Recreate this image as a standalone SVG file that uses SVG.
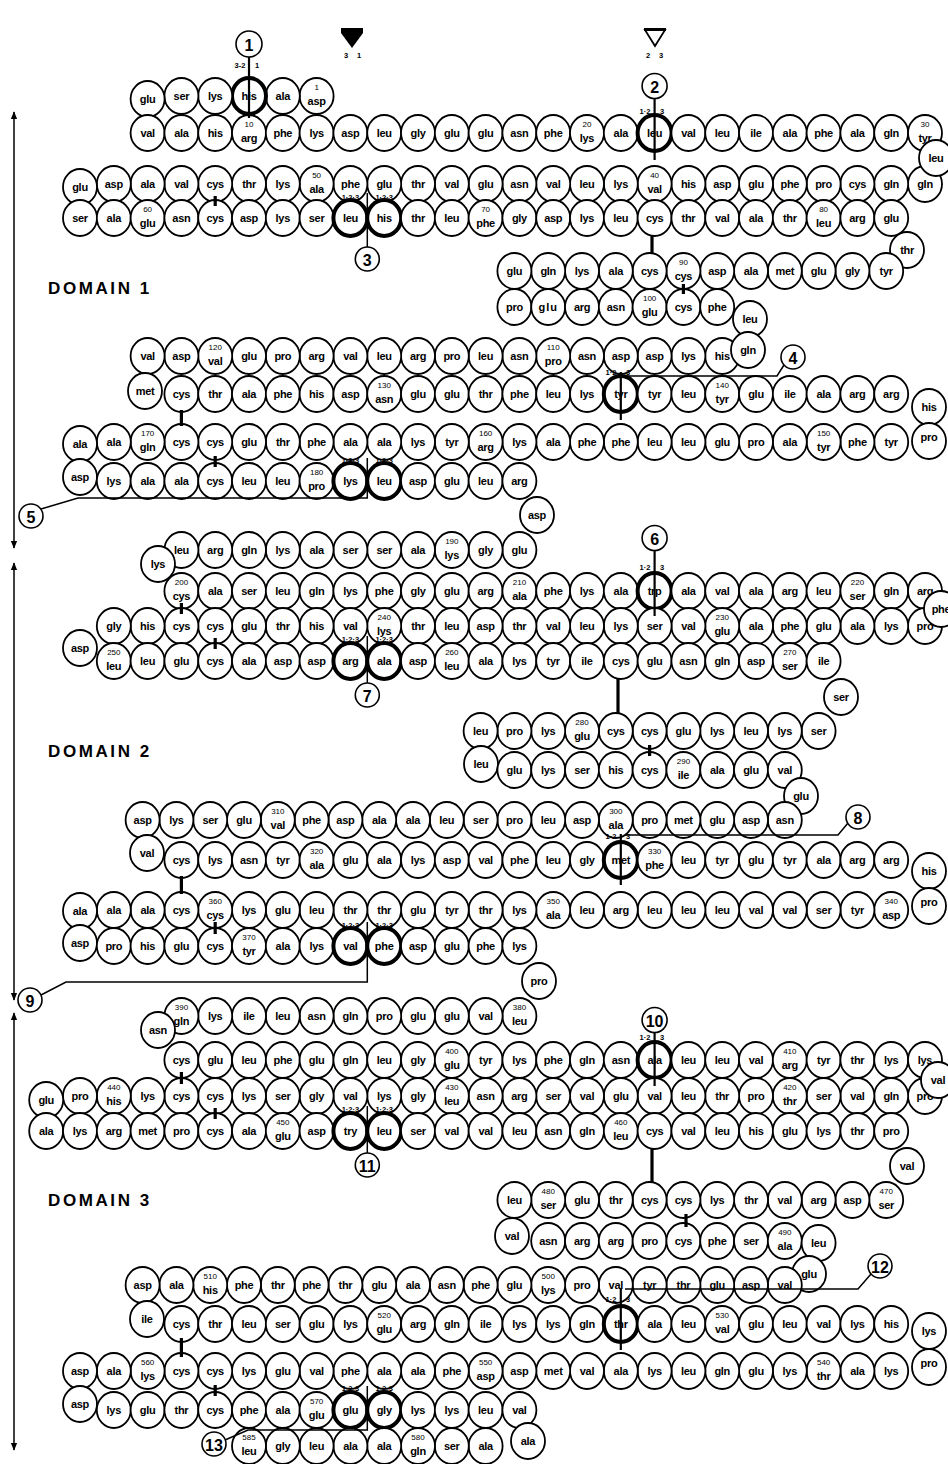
<svg xmlns="http://www.w3.org/2000/svg" xmlns:xlink="http://www.w3.org/1999/xlink" width="948" height="1464" viewBox="0 0 948 1464">
<style>
.r use{fill:#fff;stroke:#000;stroke-width:1.8}
.r .b use{stroke-width:4}
.r text{font-family:"Liberation Sans",Arial,sans-serif;font-size:11px;font-weight:bold;text-anchor:middle;dominant-baseline:central;letter-spacing:-0.3px}
.r text.n{font-size:8px;font-weight:normal;letter-spacing:0}
.lab circle{fill:#fff;stroke:#000;stroke-width:1.6}
.lab text{font-family:"Liberation Sans",Arial,sans-serif;font-size:16px;font-weight:bold;text-anchor:middle;dominant-baseline:central}
.k{font-family:"Liberation Sans",Arial,sans-serif;font-size:7.5px;font-weight:bold;text-anchor:middle}
.cn line,.cn polyline{fill:none;stroke:#000;stroke-width:1.5}
.cn .v{stroke-width:2.2}
.cn .ss{stroke-width:3.2}
.dm{font-family:"Liberation Sans",Arial,sans-serif;font-size:17px;font-weight:bold;letter-spacing:2.6px}
.ax{stroke:#000;stroke-width:1.5}
</style>
<defs>
<ellipse id="c" rx="17" ry="18"/>
<marker id="ah" viewBox="0 0 10 10" refX="9" refY="5" markerWidth="8" markerHeight="8" orient="auto-start-reverse" markerUnits="userSpaceOnUse"><path d="M0,1 L10,5 L0,9 Z" fill="#000"/></marker>
</defs>
<rect width="948" height="1464" fill="#fff"/>

<g id="header">
<polygon points="341,28 363,28 363,33 352,48 341,33" fill="#000"/>
<text class="k" x="346" y="58">3</text><text class="k" x="359" y="58">1</text>
<rect x="644" y="28" width="22" height="3" fill="#000"/>
<polygon points="645,30 665,30 655,46" fill="none" stroke="#000" stroke-width="1.8"/>
<text class="k" x="648" y="58">2</text><text class="k" x="661" y="58">3</text>
</g>

<g id="domains">
<line class="ax" x1="14" y1="112" x2="14" y2="548" marker-start="url(#ah)" marker-end="url(#ah)"/>
<line class="ax" x1="14" y1="563" x2="14" y2="1000" marker-start="url(#ah)" marker-end="url(#ah)"/>
<line class="ax" x1="14" y1="1013" x2="14" y2="1450" marker-start="url(#ah)" marker-end="url(#ah)"/>
<text class="dm" x="48" y="294">DOMAIN 1</text>
<text class="dm" x="48" y="757">DOMAIN 2</text>
<text class="dm" x="48" y="1206">DOMAIN 3</text>
</g>

<g id="residues" class="r">
<g id="r1" transform="translate(316.6,96)"><use href="#c"/><text class="n" y="-9">1</text><text y="5">asp</text></g>
<g id="r2" transform="translate(282.8,96)"><use href="#c"/><text>ala</text></g>
<g id="r3" class="b" transform="translate(249,96)"><use href="#c"/><text>his</text></g>
<g id="r4" transform="translate(215.2,96)"><use href="#c"/><text>lys</text></g>
<g id="r5" transform="translate(181.4,96)"><use href="#c"/><text>ser</text></g>
<g id="r6" transform="translate(147.6,99)"><use href="#c"/><text>glu</text></g>
<g id="r7" transform="translate(147.6,133)"><use href="#c"/><text>val</text></g>
<g id="r8" transform="translate(181.4,133)"><use href="#c"/><text>ala</text></g>
<g id="r9" transform="translate(215.2,133)"><use href="#c"/><text>his</text></g>
<g id="r10" transform="translate(249,133)"><use href="#c"/><text class="n" y="-9">10</text><text y="5">arg</text></g>
<g id="r11" transform="translate(282.8,133)"><use href="#c"/><text>phe</text></g>
<g id="r12" transform="translate(316.6,133)"><use href="#c"/><text>lys</text></g>
<g id="r13" transform="translate(350.4,133)"><use href="#c"/><text>asp</text></g>
<g id="r14" transform="translate(384.2,133)"><use href="#c"/><text>leu</text></g>
<g id="r15" transform="translate(418,133)"><use href="#c"/><text>gly</text></g>
<g id="r16" transform="translate(451.8,133)"><use href="#c"/><text>glu</text></g>
<g id="r17" transform="translate(485.6,133)"><use href="#c"/><text>glu</text></g>
<g id="r18" transform="translate(519.4,133)"><use href="#c"/><text>asn</text></g>
<g id="r19" transform="translate(553.2,133)"><use href="#c"/><text>phe</text></g>
<g id="r20" transform="translate(587,133)"><use href="#c"/><text class="n" y="-9">20</text><text y="5">lys</text></g>
<g id="r21" transform="translate(620.8,133)"><use href="#c"/><text>ala</text></g>
<g id="r22" class="b" transform="translate(654.6,133)"><use href="#c"/><text>leu</text></g>
<g id="r23" transform="translate(688.4,133)"><use href="#c"/><text>val</text></g>
<g id="r24" transform="translate(722.2,133)"><use href="#c"/><text>leu</text></g>
<g id="r25" transform="translate(756,133)"><use href="#c"/><text>ile</text></g>
<g id="r26" transform="translate(789.8,133)"><use href="#c"/><text>ala</text></g>
<g id="r27" transform="translate(823.6,133)"><use href="#c"/><text>phe</text></g>
<g id="r28" transform="translate(857.4,133)"><use href="#c"/><text>ala</text></g>
<g id="r29" transform="translate(891.2,133)"><use href="#c"/><text>gln</text></g>
<g id="r30" transform="translate(925,133)"><use href="#c"/><text class="n" y="-9">30</text><text y="5">tyr</text></g>
<g id="r32" transform="translate(925,184)"><use href="#c"/><text>gln</text></g>
<g id="r31" transform="translate(936,158)"><use href="#c"/><text>leu</text></g>
<g id="r33" transform="translate(891.2,184)"><use href="#c"/><text>gln</text></g>
<g id="r34" transform="translate(857.4,184)"><use href="#c"/><text>cys</text></g>
<g id="r35" transform="translate(823.6,184)"><use href="#c"/><text>pro</text></g>
<g id="r36" transform="translate(789.8,184)"><use href="#c"/><text>phe</text></g>
<g id="r37" transform="translate(756,184)"><use href="#c"/><text>glu</text></g>
<g id="r38" transform="translate(722.2,184)"><use href="#c"/><text>asp</text></g>
<g id="r39" transform="translate(688.4,184)"><use href="#c"/><text>his</text></g>
<g id="r40" transform="translate(654.6,184)"><use href="#c"/><text class="n" y="-9">40</text><text y="5">val</text></g>
<g id="r41" transform="translate(620.8,184)"><use href="#c"/><text>lys</text></g>
<g id="r42" transform="translate(587,184)"><use href="#c"/><text>leu</text></g>
<g id="r43" transform="translate(553.2,184)"><use href="#c"/><text>val</text></g>
<g id="r44" transform="translate(519.4,184)"><use href="#c"/><text>asn</text></g>
<g id="r45" transform="translate(485.6,184)"><use href="#c"/><text>glu</text></g>
<g id="r46" transform="translate(451.8,184)"><use href="#c"/><text>val</text></g>
<g id="r47" transform="translate(418,184)"><use href="#c"/><text>thr</text></g>
<g id="r48" transform="translate(384.2,184)"><use href="#c"/><text>glu</text></g>
<g id="r49" transform="translate(350.4,184)"><use href="#c"/><text>phe</text></g>
<g id="r50" transform="translate(316.6,184)"><use href="#c"/><text class="n" y="-9">50</text><text y="5">ala</text></g>
<g id="r51" transform="translate(282.8,184)"><use href="#c"/><text>lys</text></g>
<g id="r52" transform="translate(249,184)"><use href="#c"/><text>thr</text></g>
<g id="r53" transform="translate(215.2,184)"><use href="#c"/><text>cys</text></g>
<g id="r54" transform="translate(181.4,184)"><use href="#c"/><text>val</text></g>
<g id="r55" transform="translate(147.6,184)"><use href="#c"/><text>ala</text></g>
<g id="r56" transform="translate(113.8,184)"><use href="#c"/><text>asp</text></g>
<g id="r57" transform="translate(80,187)"><use href="#c"/><text>glu</text></g>
<g id="r58" transform="translate(80,218)"><use href="#c"/><text>ser</text></g>
<g id="r59" transform="translate(113.8,218)"><use href="#c"/><text>ala</text></g>
<g id="r60" transform="translate(147.6,218)"><use href="#c"/><text class="n" y="-9">60</text><text y="5">glu</text></g>
<g id="r61" transform="translate(181.4,218)"><use href="#c"/><text>asn</text></g>
<g id="r62" transform="translate(215.2,218)"><use href="#c"/><text>cys</text></g>
<g id="r63" transform="translate(249,218)"><use href="#c"/><text>asp</text></g>
<g id="r64" transform="translate(282.8,218)"><use href="#c"/><text>lys</text></g>
<g id="r65" transform="translate(316.6,218)"><use href="#c"/><text>ser</text></g>
<g id="r66" class="b" transform="translate(350.4,218)"><use href="#c"/><text>leu</text></g>
<g id="r67" class="b" transform="translate(384.2,218)"><use href="#c"/><text>his</text></g>
<g id="r68" transform="translate(418,218)"><use href="#c"/><text>thr</text></g>
<g id="r69" transform="translate(451.8,218)"><use href="#c"/><text>leu</text></g>
<g id="r70" transform="translate(485.6,218)"><use href="#c"/><text class="n" y="-9">70</text><text y="5">phe</text></g>
<g id="r71" transform="translate(519.4,218)"><use href="#c"/><text>gly</text></g>
<g id="r72" transform="translate(553.2,218)"><use href="#c"/><text>asp</text></g>
<g id="r73" transform="translate(587,218)"><use href="#c"/><text>lys</text></g>
<g id="r74" transform="translate(620.8,218)"><use href="#c"/><text>leu</text></g>
<g id="r75" transform="translate(654.6,218)"><use href="#c"/><text>cys</text></g>
<g id="r76" transform="translate(688.4,218)"><use href="#c"/><text>thr</text></g>
<g id="r77" transform="translate(722.2,218)"><use href="#c"/><text>val</text></g>
<g id="r78" transform="translate(756,218)"><use href="#c"/><text>ala</text></g>
<g id="r79" transform="translate(789.8,218)"><use href="#c"/><text>thr</text></g>
<g id="r80" transform="translate(823.6,218)"><use href="#c"/><text class="n" y="-9">80</text><text y="5">leu</text></g>
<g id="r81" transform="translate(857.4,218)"><use href="#c"/><text>arg</text></g>
<g id="r82" transform="translate(891.2,218)"><use href="#c"/><text>glu</text></g>
<g id="r83" transform="translate(907,250)"><use href="#c"/><text>thr</text></g>
<g id="r84" transform="translate(886.2,271)"><use href="#c"/><text>tyr</text></g>
<g id="r85" transform="translate(852.4,271)"><use href="#c"/><text>gly</text></g>
<g id="r86" transform="translate(818.6,271)"><use href="#c"/><text>glu</text></g>
<g id="r87" transform="translate(784.8,271)"><use href="#c"/><text>met</text></g>
<g id="r88" transform="translate(751,271)"><use href="#c"/><text>ala</text></g>
<g id="r89" transform="translate(717.2,271)"><use href="#c"/><text>asp</text></g>
<g id="r90" transform="translate(683.4,271)"><use href="#c"/><text class="n" y="-9">90</text><text y="5">cys</text></g>
<g id="r91" transform="translate(649.6,271)"><use href="#c"/><text>cys</text></g>
<g id="r92" transform="translate(615.8,271)"><use href="#c"/><text>ala</text></g>
<g id="r93" transform="translate(582,271)"><use href="#c"/><text>lys</text></g>
<g id="r94" transform="translate(548.2,271)"><use href="#c"/><text>gln</text></g>
<g id="r95" transform="translate(514.4,271)"><use href="#c"/><text>glu</text></g>
<g id="r96" transform="translate(514.4,307)"><use href="#c"/><text>pro</text></g>
<g id="r97" transform="translate(548.2,307)"><use href="#c"/><text style="letter-spacing:1px">glu</text></g>
<g id="r98" transform="translate(582,307)"><use href="#c"/><text>arg</text></g>
<g id="r99" transform="translate(615.8,307)"><use href="#c"/><text>asn</text></g>
<g id="r100" transform="translate(649.6,307)"><use href="#c"/><text class="n" y="-9">100</text><text y="5">glu</text></g>
<g id="r101" transform="translate(683.4,307)"><use href="#c"/><text>cys</text></g>
<g id="r102" transform="translate(717.2,307)"><use href="#c"/><text>phe</text></g>
<g id="r103" transform="translate(750,319)"><use href="#c"/><text>leu</text></g>
<g id="r105" transform="translate(722.2,356)"><use href="#c"/><text>his</text></g>
<g id="r104" transform="translate(748,350)"><use href="#c"/><text>gln</text></g>
<g id="r106" transform="translate(688.4,356)"><use href="#c"/><text>lys</text></g>
<g id="r107" transform="translate(654.6,356)"><use href="#c"/><text>asp</text></g>
<g id="r108" transform="translate(620.8,356)"><use href="#c"/><text>asp</text></g>
<g id="r109" transform="translate(587,356)"><use href="#c"/><text>asn</text></g>
<g id="r110" transform="translate(553.2,356)"><use href="#c"/><text class="n" y="-9">110</text><text y="5">pro</text></g>
<g id="r111" transform="translate(519.4,356)"><use href="#c"/><text>asn</text></g>
<g id="r112" transform="translate(485.6,356)"><use href="#c"/><text>leu</text></g>
<g id="r113" transform="translate(451.8,356)"><use href="#c"/><text>pro</text></g>
<g id="r114" transform="translate(418,356)"><use href="#c"/><text>arg</text></g>
<g id="r115" transform="translate(384.2,356)"><use href="#c"/><text>leu</text></g>
<g id="r116" transform="translate(350.4,356)"><use href="#c"/><text>val</text></g>
<g id="r117" transform="translate(316.6,356)"><use href="#c"/><text>arg</text></g>
<g id="r118" transform="translate(282.8,356)"><use href="#c"/><text>pro</text></g>
<g id="r119" transform="translate(249,356)"><use href="#c"/><text>glu</text></g>
<g id="r120" transform="translate(215.2,356)"><use href="#c"/><text class="n" y="-9">120</text><text y="5">val</text></g>
<g id="r121" transform="translate(181.4,356)"><use href="#c"/><text>asp</text></g>
<g id="r122" transform="translate(147.6,356)"><use href="#c"/><text>val</text></g>
<g id="r123" transform="translate(145,391)"><use href="#c"/><text>met</text></g>
<g id="r124" transform="translate(181.4,394)"><use href="#c"/><text>cys</text></g>
<g id="r125" transform="translate(215.2,394)"><use href="#c"/><text>thr</text></g>
<g id="r126" transform="translate(249,394)"><use href="#c"/><text>ala</text></g>
<g id="r127" transform="translate(282.8,394)"><use href="#c"/><text>phe</text></g>
<g id="r128" transform="translate(316.6,394)"><use href="#c"/><text>his</text></g>
<g id="r129" transform="translate(350.4,394)"><use href="#c"/><text>asp</text></g>
<g id="r130" transform="translate(384.2,394)"><use href="#c"/><text class="n" y="-9">130</text><text y="5">asn</text></g>
<g id="r131" transform="translate(418,394)"><use href="#c"/><text>glu</text></g>
<g id="r132" transform="translate(451.8,394)"><use href="#c"/><text>glu</text></g>
<g id="r133" transform="translate(485.6,394)"><use href="#c"/><text>thr</text></g>
<g id="r134" transform="translate(519.4,394)"><use href="#c"/><text>phe</text></g>
<g id="r135" transform="translate(553.2,394)"><use href="#c"/><text>leu</text></g>
<g id="r136" transform="translate(587,394)"><use href="#c"/><text>lys</text></g>
<g id="r137" class="b" transform="translate(620.8,394)"><use href="#c"/><text>tyr</text></g>
<g id="r138" transform="translate(654.6,394)"><use href="#c"/><text>tyr</text></g>
<g id="r139" transform="translate(688.4,394)"><use href="#c"/><text>leu</text></g>
<g id="r140" transform="translate(722.2,394)"><use href="#c"/><text class="n" y="-9">140</text><text y="5">tyr</text></g>
<g id="r141" transform="translate(756,394)"><use href="#c"/><text>glu</text></g>
<g id="r142" transform="translate(789.8,394)"><use href="#c"/><text>ile</text></g>
<g id="r143" transform="translate(823.6,394)"><use href="#c"/><text>ala</text></g>
<g id="r144" transform="translate(857.4,394)"><use href="#c"/><text>arg</text></g>
<g id="r145" transform="translate(891.2,394)"><use href="#c"/><text>arg</text></g>
<g id="r146" transform="translate(929,407)"><use href="#c"/><text>his</text></g>
<g id="r147" transform="translate(929,441)"><use href="#c"/><text y="-4">pro</text></g>
<g id="r148" transform="translate(891.2,442)"><use href="#c"/><text>tyr</text></g>
<g id="r149" transform="translate(857.4,442)"><use href="#c"/><text>phe</text></g>
<g id="r150" transform="translate(823.6,442)"><use href="#c"/><text class="n" y="-9">150</text><text y="5">tyr</text></g>
<g id="r151" transform="translate(789.8,442)"><use href="#c"/><text>ala</text></g>
<g id="r152" transform="translate(756,442)"><use href="#c"/><text>pro</text></g>
<g id="r153" transform="translate(722.2,442)"><use href="#c"/><text>glu</text></g>
<g id="r154" transform="translate(688.4,442)"><use href="#c"/><text>leu</text></g>
<g id="r155" transform="translate(654.6,442)"><use href="#c"/><text>leu</text></g>
<g id="r156" transform="translate(620.8,442)"><use href="#c"/><text>phe</text></g>
<g id="r157" transform="translate(587,442)"><use href="#c"/><text>phe</text></g>
<g id="r158" transform="translate(553.2,442)"><use href="#c"/><text>ala</text></g>
<g id="r159" transform="translate(519.4,442)"><use href="#c"/><text>lys</text></g>
<g id="r160" transform="translate(485.6,442)"><use href="#c"/><text class="n" y="-9">160</text><text y="5">arg</text></g>
<g id="r161" transform="translate(451.8,442)"><use href="#c"/><text>tyr</text></g>
<g id="r162" transform="translate(418,442)"><use href="#c"/><text>lys</text></g>
<g id="r163" transform="translate(384.2,442)"><use href="#c"/><text>ala</text></g>
<g id="r164" transform="translate(350.4,442)"><use href="#c"/><text>ala</text></g>
<g id="r165" transform="translate(316.6,442)"><use href="#c"/><text>phe</text></g>
<g id="r166" transform="translate(282.8,442)"><use href="#c"/><text>thr</text></g>
<g id="r167" transform="translate(249,442)"><use href="#c"/><text>glu</text></g>
<g id="r168" transform="translate(215.2,442)"><use href="#c"/><text>cys</text></g>
<g id="r169" transform="translate(181.4,442)"><use href="#c"/><text>cys</text></g>
<g id="r170" transform="translate(147.6,442)"><use href="#c"/><text class="n" y="-9">170</text><text y="5">gln</text></g>
<g id="r171" transform="translate(113.8,442)"><use href="#c"/><text>ala</text></g>
<g id="r172" transform="translate(80,444)"><use href="#c"/><text>ala</text></g>
<g id="r173" transform="translate(80,477)"><use href="#c"/><text>asp</text></g>
<g id="r174" transform="translate(113.8,481)"><use href="#c"/><text>lys</text></g>
<g id="r175" transform="translate(147.6,481)"><use href="#c"/><text>ala</text></g>
<g id="r176" transform="translate(181.4,481)"><use href="#c"/><text>ala</text></g>
<g id="r177" transform="translate(215.2,481)"><use href="#c"/><text>cys</text></g>
<g id="r178" transform="translate(249,481)"><use href="#c"/><text>leu</text></g>
<g id="r179" transform="translate(282.8,481)"><use href="#c"/><text>leu</text></g>
<g id="r180" transform="translate(316.6,481)"><use href="#c"/><text class="n" y="-9">180</text><text y="5">pro</text></g>
<g id="r181" class="b" transform="translate(350.4,481)"><use href="#c"/><text>lys</text></g>
<g id="r182" class="b" transform="translate(384.2,481)"><use href="#c"/><text>leu</text></g>
<g id="r183" transform="translate(418,481)"><use href="#c"/><text>asp</text></g>
<g id="r184" transform="translate(451.8,481)"><use href="#c"/><text>glu</text></g>
<g id="r185" transform="translate(485.6,481)"><use href="#c"/><text>leu</text></g>
<g id="r186" transform="translate(519.4,481)"><use href="#c"/><text>arg</text></g>
<g id="r187" transform="translate(537,515)"><use href="#c"/><text>asp</text></g>
<g id="r188" transform="translate(519.4,550)"><use href="#c"/><text>glu</text></g>
<g id="r189" transform="translate(485.6,550)"><use href="#c"/><text>gly</text></g>
<g id="r190" transform="translate(451.8,550)"><use href="#c"/><text class="n" y="-9">190</text><text y="5">lys</text></g>
<g id="r191" transform="translate(418,550)"><use href="#c"/><text>ala</text></g>
<g id="r192" transform="translate(384.2,550)"><use href="#c"/><text>ser</text></g>
<g id="r193" transform="translate(350.4,550)"><use href="#c"/><text>ser</text></g>
<g id="r194" transform="translate(316.6,550)"><use href="#c"/><text>ala</text></g>
<g id="r195" transform="translate(282.8,550)"><use href="#c"/><text>lys</text></g>
<g id="r196" transform="translate(249,550)"><use href="#c"/><text>gln</text></g>
<g id="r197" transform="translate(215.2,550)"><use href="#c"/><text>arg</text></g>
<g id="r198" transform="translate(181.4,550)"><use href="#c"/><text>leu</text></g>
<g id="r199" transform="translate(158,564)"><use href="#c"/><text>lys</text></g>
<g id="r200" transform="translate(181.4,591)"><use href="#c"/><text class="n" y="-9">200</text><text y="5">cys</text></g>
<g id="r201" transform="translate(215.2,591)"><use href="#c"/><text>ala</text></g>
<g id="r202" transform="translate(249,591)"><use href="#c"/><text>ser</text></g>
<g id="r203" transform="translate(282.8,591)"><use href="#c"/><text>leu</text></g>
<g id="r204" transform="translate(316.6,591)"><use href="#c"/><text>gln</text></g>
<g id="r205" transform="translate(350.4,591)"><use href="#c"/><text>lys</text></g>
<g id="r206" transform="translate(384.2,591)"><use href="#c"/><text>phe</text></g>
<g id="r207" transform="translate(418,591)"><use href="#c"/><text>gly</text></g>
<g id="r208" transform="translate(451.8,591)"><use href="#c"/><text>glu</text></g>
<g id="r209" transform="translate(485.6,591)"><use href="#c"/><text>arg</text></g>
<g id="r210" transform="translate(519.4,591)"><use href="#c"/><text class="n" y="-9">210</text><text y="5">ala</text></g>
<g id="r211" transform="translate(553.2,591)"><use href="#c"/><text>phe</text></g>
<g id="r212" transform="translate(587,591)"><use href="#c"/><text>lys</text></g>
<g id="r213" transform="translate(620.8,591)"><use href="#c"/><text>ala</text></g>
<g id="r214" class="b" transform="translate(654.6,591)"><use href="#c"/><text>trp</text></g>
<g id="r215" transform="translate(688.4,591)"><use href="#c"/><text>ala</text></g>
<g id="r216" transform="translate(722.2,591)"><use href="#c"/><text>val</text></g>
<g id="r217" transform="translate(756,591)"><use href="#c"/><text>ala</text></g>
<g id="r218" transform="translate(789.8,591)"><use href="#c"/><text>arg</text></g>
<g id="r219" transform="translate(823.6,591)"><use href="#c"/><text>leu</text></g>
<g id="r220" transform="translate(857.4,591)"><use href="#c"/><text class="n" y="-9">220</text><text y="5">ser</text></g>
<g id="r221" transform="translate(891.2,591)"><use href="#c"/><text>gln</text></g>
<g id="r222" transform="translate(925,591)"><use href="#c"/><text>arg</text></g>
<g id="r224" transform="translate(925,626)"><use href="#c"/><text>pro</text></g>
<g id="r223" transform="translate(941,609)"><use href="#c"/><text>phe</text></g>
<g id="r225" transform="translate(891.2,626)"><use href="#c"/><text>lys</text></g>
<g id="r226" transform="translate(857.4,626)"><use href="#c"/><text>ala</text></g>
<g id="r227" transform="translate(823.6,626)"><use href="#c"/><text>glu</text></g>
<g id="r228" transform="translate(789.8,626)"><use href="#c"/><text>phe</text></g>
<g id="r229" transform="translate(756,626)"><use href="#c"/><text>ala</text></g>
<g id="r230" transform="translate(722.2,626)"><use href="#c"/><text class="n" y="-9">230</text><text y="5">glu</text></g>
<g id="r231" transform="translate(688.4,626)"><use href="#c"/><text>val</text></g>
<g id="r232" transform="translate(654.6,626)"><use href="#c"/><text>ser</text></g>
<g id="r233" transform="translate(620.8,626)"><use href="#c"/><text>lys</text></g>
<g id="r234" transform="translate(587,626)"><use href="#c"/><text>leu</text></g>
<g id="r235" transform="translate(553.2,626)"><use href="#c"/><text>val</text></g>
<g id="r236" transform="translate(519.4,626)"><use href="#c"/><text>thr</text></g>
<g id="r237" transform="translate(485.6,626)"><use href="#c"/><text>asp</text></g>
<g id="r238" transform="translate(451.8,626)"><use href="#c"/><text>leu</text></g>
<g id="r239" transform="translate(418,626)"><use href="#c"/><text>thr</text></g>
<g id="r240" transform="translate(384.2,626)"><use href="#c"/><text class="n" y="-9">240</text><text y="5">lys</text></g>
<g id="r241" transform="translate(350.4,626)"><use href="#c"/><text>val</text></g>
<g id="r242" transform="translate(316.6,626)"><use href="#c"/><text>his</text></g>
<g id="r243" transform="translate(282.8,626)"><use href="#c"/><text>thr</text></g>
<g id="r244" transform="translate(249,626)"><use href="#c"/><text>glu</text></g>
<g id="r245" transform="translate(215.2,626)"><use href="#c"/><text>cys</text></g>
<g id="r246" transform="translate(181.4,626)"><use href="#c"/><text>cys</text></g>
<g id="r247" transform="translate(147.6,626)"><use href="#c"/><text>his</text></g>
<g id="r248" transform="translate(113.8,626)"><use href="#c"/><text>gly</text></g>
<g id="r249" transform="translate(80,648)"><use href="#c"/><text>asp</text></g>
<g id="r250" transform="translate(113.8,661)"><use href="#c"/><text class="n" y="-9">250</text><text y="5">leu</text></g>
<g id="r251" transform="translate(147.6,661)"><use href="#c"/><text>leu</text></g>
<g id="r252" transform="translate(181.4,661)"><use href="#c"/><text>glu</text></g>
<g id="r253" transform="translate(215.2,661)"><use href="#c"/><text>cys</text></g>
<g id="r254" transform="translate(249,661)"><use href="#c"/><text>ala</text></g>
<g id="r255" transform="translate(282.8,661)"><use href="#c"/><text>asp</text></g>
<g id="r256" transform="translate(316.6,661)"><use href="#c"/><text>asp</text></g>
<g id="r257" class="b" transform="translate(350.4,661)"><use href="#c"/><text>arg</text></g>
<g id="r258" class="b" transform="translate(384.2,661)"><use href="#c"/><text>ala</text></g>
<g id="r259" transform="translate(418,661)"><use href="#c"/><text>asp</text></g>
<g id="r260" transform="translate(451.8,661)"><use href="#c"/><text class="n" y="-9">260</text><text y="5">leu</text></g>
<g id="r261" transform="translate(485.6,661)"><use href="#c"/><text>ala</text></g>
<g id="r262" transform="translate(519.4,661)"><use href="#c"/><text>lys</text></g>
<g id="r263" transform="translate(553.2,661)"><use href="#c"/><text>tyr</text></g>
<g id="r264" transform="translate(587,661)"><use href="#c"/><text>ile</text></g>
<g id="r265" transform="translate(620.8,661)"><use href="#c"/><text>cys</text></g>
<g id="r266" transform="translate(654.6,661)"><use href="#c"/><text>glu</text></g>
<g id="r267" transform="translate(688.4,661)"><use href="#c"/><text>asn</text></g>
<g id="r268" transform="translate(722.2,661)"><use href="#c"/><text>gln</text></g>
<g id="r269" transform="translate(756,661)"><use href="#c"/><text>asp</text></g>
<g id="r270" transform="translate(789.8,661)"><use href="#c"/><text class="n" y="-9">270</text><text y="5">ser</text></g>
<g id="r271" transform="translate(823.6,661)"><use href="#c"/><text>ile</text></g>
<g id="r272" transform="translate(841,697)"><use href="#c"/><text>ser</text></g>
<g id="r273" transform="translate(818.6,731)"><use href="#c"/><text>ser</text></g>
<g id="r274" transform="translate(784.8,731)"><use href="#c"/><text>lys</text></g>
<g id="r275" transform="translate(751,731)"><use href="#c"/><text>leu</text></g>
<g id="r276" transform="translate(717.2,731)"><use href="#c"/><text>lys</text></g>
<g id="r277" transform="translate(683.4,731)"><use href="#c"/><text>glu</text></g>
<g id="r278" transform="translate(649.6,731)"><use href="#c"/><text>cys</text></g>
<g id="r279" transform="translate(615.8,731)"><use href="#c"/><text>cys</text></g>
<g id="r280" transform="translate(582,731)"><use href="#c"/><text class="n" y="-9">280</text><text y="5">glu</text></g>
<g id="r281" transform="translate(548.2,731)"><use href="#c"/><text>lys</text></g>
<g id="r282" transform="translate(514.4,731)"><use href="#c"/><text>pro</text></g>
<g id="r283" transform="translate(480.6,731)"><use href="#c"/><text>leu</text></g>
<g id="r284" transform="translate(481,764)"><use href="#c"/><text>leu</text></g>
<g id="r285" transform="translate(514.4,770)"><use href="#c"/><text>glu</text></g>
<g id="r286" transform="translate(548.2,770)"><use href="#c"/><text>lys</text></g>
<g id="r287" transform="translate(582,770)"><use href="#c"/><text>ser</text></g>
<g id="r288" transform="translate(615.8,770)"><use href="#c"/><text>his</text></g>
<g id="r289" transform="translate(649.6,770)"><use href="#c"/><text>cys</text></g>
<g id="r290" transform="translate(683.4,770)"><use href="#c"/><text class="n" y="-9">290</text><text y="5">ile</text></g>
<g id="r291" transform="translate(717.2,770)"><use href="#c"/><text>ala</text></g>
<g id="r292" transform="translate(751,770)"><use href="#c"/><text>glu</text></g>
<g id="r293" transform="translate(784.8,770)"><use href="#c"/><text>val</text></g>
<g id="r294" transform="translate(801,796)"><use href="#c"/><text>glu</text></g>
<g id="r295" transform="translate(784.8,820)"><use href="#c"/><text>asn</text></g>
<g id="r296" transform="translate(751,820)"><use href="#c"/><text>asp</text></g>
<g id="r297" transform="translate(717.2,820)"><use href="#c"/><text>glu</text></g>
<g id="r298" transform="translate(683.4,820)"><use href="#c"/><text>met</text></g>
<g id="r299" transform="translate(649.6,820)"><use href="#c"/><text>pro</text></g>
<g id="r300" transform="translate(615.8,820)"><use href="#c"/><text class="n" y="-9">300</text><text y="5">ala</text></g>
<g id="r301" transform="translate(582,820)"><use href="#c"/><text>asp</text></g>
<g id="r302" transform="translate(548.2,820)"><use href="#c"/><text>leu</text></g>
<g id="r303" transform="translate(514.4,820)"><use href="#c"/><text>pro</text></g>
<g id="r304" transform="translate(480.6,820)"><use href="#c"/><text>ser</text></g>
<g id="r305" transform="translate(446.8,820)"><use href="#c"/><text>leu</text></g>
<g id="r306" transform="translate(413,820)"><use href="#c"/><text>ala</text></g>
<g id="r307" transform="translate(379.2,820)"><use href="#c"/><text>ala</text></g>
<g id="r308" transform="translate(345.4,820)"><use href="#c"/><text>asp</text></g>
<g id="r309" transform="translate(311.6,820)"><use href="#c"/><text>phe</text></g>
<g id="r310" transform="translate(277.8,820)"><use href="#c"/><text class="n" y="-9">310</text><text y="5">val</text></g>
<g id="r311" transform="translate(244,820)"><use href="#c"/><text>glu</text></g>
<g id="r312" transform="translate(210.2,820)"><use href="#c"/><text>ser</text></g>
<g id="r313" transform="translate(176.4,820)"><use href="#c"/><text>lys</text></g>
<g id="r314" transform="translate(142.6,820)"><use href="#c"/><text>asp</text></g>
<g id="r315" transform="translate(147,853)"><use href="#c"/><text>val</text></g>
<g id="r316" transform="translate(181.4,860)"><use href="#c"/><text>cys</text></g>
<g id="r317" transform="translate(215.2,860)"><use href="#c"/><text>lys</text></g>
<g id="r318" transform="translate(249,860)"><use href="#c"/><text>asn</text></g>
<g id="r319" transform="translate(282.8,860)"><use href="#c"/><text>tyr</text></g>
<g id="r320" transform="translate(316.6,860)"><use href="#c"/><text class="n" y="-9">320</text><text y="5">ala</text></g>
<g id="r321" transform="translate(350.4,860)"><use href="#c"/><text>glu</text></g>
<g id="r322" transform="translate(384.2,860)"><use href="#c"/><text>ala</text></g>
<g id="r323" transform="translate(418,860)"><use href="#c"/><text>lys</text></g>
<g id="r324" transform="translate(451.8,860)"><use href="#c"/><text>asp</text></g>
<g id="r325" transform="translate(485.6,860)"><use href="#c"/><text>val</text></g>
<g id="r326" transform="translate(519.4,860)"><use href="#c"/><text>phe</text></g>
<g id="r327" transform="translate(553.2,860)"><use href="#c"/><text>leu</text></g>
<g id="r328" transform="translate(587,860)"><use href="#c"/><text>gly</text></g>
<g id="r329" class="b" transform="translate(620.8,860)"><use href="#c"/><text>met</text></g>
<g id="r330" transform="translate(654.6,860)"><use href="#c"/><text class="n" y="-9">330</text><text y="5">phe</text></g>
<g id="r331" transform="translate(688.4,860)"><use href="#c"/><text>leu</text></g>
<g id="r332" transform="translate(722.2,860)"><use href="#c"/><text>tyr</text></g>
<g id="r333" transform="translate(756,860)"><use href="#c"/><text>glu</text></g>
<g id="r334" transform="translate(789.8,860)"><use href="#c"/><text>tyr</text></g>
<g id="r335" transform="translate(823.6,860)"><use href="#c"/><text>ala</text></g>
<g id="r336" transform="translate(857.4,860)"><use href="#c"/><text>arg</text></g>
<g id="r337" transform="translate(891.2,860)"><use href="#c"/><text>arg</text></g>
<g id="r338" transform="translate(929,871)"><use href="#c"/><text>his</text></g>
<g id="r339" transform="translate(929,906)"><use href="#c"/><text y="-4">pro</text></g>
<g id="r340" transform="translate(891.2,910)"><use href="#c"/><text class="n" y="-9">340</text><text y="5">asp</text></g>
<g id="r341" transform="translate(857.4,910)"><use href="#c"/><text>tyr</text></g>
<g id="r342" transform="translate(823.6,910)"><use href="#c"/><text>ser</text></g>
<g id="r343" transform="translate(789.8,910)"><use href="#c"/><text>val</text></g>
<g id="r344" transform="translate(756,910)"><use href="#c"/><text>val</text></g>
<g id="r345" transform="translate(722.2,910)"><use href="#c"/><text>leu</text></g>
<g id="r346" transform="translate(688.4,910)"><use href="#c"/><text>leu</text></g>
<g id="r347" transform="translate(654.6,910)"><use href="#c"/><text>leu</text></g>
<g id="r348" transform="translate(620.8,910)"><use href="#c"/><text>arg</text></g>
<g id="r349" transform="translate(587,910)"><use href="#c"/><text>leu</text></g>
<g id="r350" transform="translate(553.2,910)"><use href="#c"/><text class="n" y="-9">350</text><text y="5">ala</text></g>
<g id="r351" transform="translate(519.4,910)"><use href="#c"/><text>lys</text></g>
<g id="r352" transform="translate(485.6,910)"><use href="#c"/><text>thr</text></g>
<g id="r353" transform="translate(451.8,910)"><use href="#c"/><text>tyr</text></g>
<g id="r354" transform="translate(418,910)"><use href="#c"/><text>glu</text></g>
<g id="r355" transform="translate(384.2,910)"><use href="#c"/><text>thr</text></g>
<g id="r356" transform="translate(350.4,910)"><use href="#c"/><text>thr</text></g>
<g id="r357" transform="translate(316.6,910)"><use href="#c"/><text>leu</text></g>
<g id="r358" transform="translate(282.8,910)"><use href="#c"/><text>glu</text></g>
<g id="r359" transform="translate(249,910)"><use href="#c"/><text>lys</text></g>
<g id="r360" transform="translate(215.2,910)"><use href="#c"/><text class="n" y="-9">360</text><text y="5">cys</text></g>
<g id="r361" transform="translate(181.4,910)"><use href="#c"/><text>cys</text></g>
<g id="r362" transform="translate(147.6,910)"><use href="#c"/><text>ala</text></g>
<g id="r363" transform="translate(113.8,910)"><use href="#c"/><text>ala</text></g>
<g id="r364" transform="translate(80,911)"><use href="#c"/><text>ala</text></g>
<g id="r365" transform="translate(80,943)"><use href="#c"/><text>asp</text></g>
<g id="r366" transform="translate(113.8,946)"><use href="#c"/><text>pro</text></g>
<g id="r367" transform="translate(147.6,946)"><use href="#c"/><text>his</text></g>
<g id="r368" transform="translate(181.4,946)"><use href="#c"/><text>glu</text></g>
<g id="r369" transform="translate(215.2,946)"><use href="#c"/><text>cys</text></g>
<g id="r370" transform="translate(249,946)"><use href="#c"/><text class="n" y="-9">370</text><text y="5">tyr</text></g>
<g id="r371" transform="translate(282.8,946)"><use href="#c"/><text>ala</text></g>
<g id="r372" transform="translate(316.6,946)"><use href="#c"/><text>lys</text></g>
<g id="r373" class="b" transform="translate(350.4,946)"><use href="#c"/><text>val</text></g>
<g id="r374" class="b" transform="translate(384.2,946)"><use href="#c"/><text>phe</text></g>
<g id="r375" transform="translate(418,946)"><use href="#c"/><text>asp</text></g>
<g id="r376" transform="translate(451.8,946)"><use href="#c"/><text>glu</text></g>
<g id="r377" transform="translate(485.6,946)"><use href="#c"/><text>phe</text></g>
<g id="r378" transform="translate(519.4,946)"><use href="#c"/><text>lys</text></g>
<g id="r379" transform="translate(539,981)"><use href="#c"/><text>pro</text></g>
<g id="r380" transform="translate(519.4,1016)"><use href="#c"/><text class="n" y="-9">380</text><text y="5">leu</text></g>
<g id="r381" transform="translate(485.6,1016)"><use href="#c"/><text>val</text></g>
<g id="r382" transform="translate(451.8,1016)"><use href="#c"/><text>glu</text></g>
<g id="r383" transform="translate(418,1016)"><use href="#c"/><text>glu</text></g>
<g id="r384" transform="translate(384.2,1016)"><use href="#c"/><text>pro</text></g>
<g id="r385" transform="translate(350.4,1016)"><use href="#c"/><text>gln</text></g>
<g id="r386" transform="translate(316.6,1016)"><use href="#c"/><text>asn</text></g>
<g id="r387" transform="translate(282.8,1016)"><use href="#c"/><text>leu</text></g>
<g id="r388" transform="translate(249,1016)"><use href="#c"/><text>ile</text></g>
<g id="r389" transform="translate(215.2,1016)"><use href="#c"/><text>lys</text></g>
<g id="r390" transform="translate(181.4,1016)"><use href="#c"/><text class="n" y="-9">390</text><text y="5">gln</text></g>
<g id="r391" transform="translate(158,1030)"><use href="#c"/><text>asn</text></g>
<g id="r392" transform="translate(181.4,1060)"><use href="#c"/><text>cys</text></g>
<g id="r393" transform="translate(215.2,1060)"><use href="#c"/><text>glu</text></g>
<g id="r394" transform="translate(249,1060)"><use href="#c"/><text>leu</text></g>
<g id="r395" transform="translate(282.8,1060)"><use href="#c"/><text>phe</text></g>
<g id="r396" transform="translate(316.6,1060)"><use href="#c"/><text>glu</text></g>
<g id="r397" transform="translate(350.4,1060)"><use href="#c"/><text>gln</text></g>
<g id="r398" transform="translate(384.2,1060)"><use href="#c"/><text>leu</text></g>
<g id="r399" transform="translate(418,1060)"><use href="#c"/><text>gly</text></g>
<g id="r400" transform="translate(451.8,1060)"><use href="#c"/><text class="n" y="-9">400</text><text y="5">glu</text></g>
<g id="r401" transform="translate(485.6,1060)"><use href="#c"/><text>tyr</text></g>
<g id="r402" transform="translate(519.4,1060)"><use href="#c"/><text>lys</text></g>
<g id="r403" transform="translate(553.2,1060)"><use href="#c"/><text>phe</text></g>
<g id="r404" transform="translate(587,1060)"><use href="#c"/><text>gln</text></g>
<g id="r405" transform="translate(620.8,1060)"><use href="#c"/><text>asn</text></g>
<g id="r406" class="b" transform="translate(654.6,1060)"><use href="#c"/><text>ala</text></g>
<g id="r407" transform="translate(688.4,1060)"><use href="#c"/><text>leu</text></g>
<g id="r408" transform="translate(722.2,1060)"><use href="#c"/><text>leu</text></g>
<g id="r409" transform="translate(756,1060)"><use href="#c"/><text>val</text></g>
<g id="r410" transform="translate(789.8,1060)"><use href="#c"/><text class="n" y="-9">410</text><text y="5">arg</text></g>
<g id="r411" transform="translate(823.6,1060)"><use href="#c"/><text>tyr</text></g>
<g id="r412" transform="translate(857.4,1060)"><use href="#c"/><text>thr</text></g>
<g id="r413" transform="translate(891.2,1060)"><use href="#c"/><text>lys</text></g>
<g id="r414" transform="translate(925,1060)"><use href="#c"/><text>lys</text></g>
<g id="r416" transform="translate(925,1096)"><use href="#c"/><text>pro</text></g>
<g id="r415" transform="translate(938,1080)"><use href="#c"/><text>val</text></g>
<g id="r417" transform="translate(891.2,1096)"><use href="#c"/><text>gln</text></g>
<g id="r418" transform="translate(857.4,1096)"><use href="#c"/><text>val</text></g>
<g id="r419" transform="translate(823.6,1096)"><use href="#c"/><text>ser</text></g>
<g id="r420" transform="translate(789.8,1096)"><use href="#c"/><text class="n" y="-9">420</text><text y="5">thr</text></g>
<g id="r421" transform="translate(756,1096)"><use href="#c"/><text>pro</text></g>
<g id="r422" transform="translate(722.2,1096)"><use href="#c"/><text>thr</text></g>
<g id="r423" transform="translate(688.4,1096)"><use href="#c"/><text>leu</text></g>
<g id="r424" transform="translate(654.6,1096)"><use href="#c"/><text>val</text></g>
<g id="r425" transform="translate(620.8,1096)"><use href="#c"/><text>glu</text></g>
<g id="r426" transform="translate(587,1096)"><use href="#c"/><text>val</text></g>
<g id="r427" transform="translate(553.2,1096)"><use href="#c"/><text>ser</text></g>
<g id="r428" transform="translate(519.4,1096)"><use href="#c"/><text>arg</text></g>
<g id="r429" transform="translate(485.6,1096)"><use href="#c"/><text>asn</text></g>
<g id="r430" transform="translate(451.8,1096)"><use href="#c"/><text class="n" y="-9">430</text><text y="5">leu</text></g>
<g id="r431" transform="translate(418,1096)"><use href="#c"/><text>gly</text></g>
<g id="r432" transform="translate(384.2,1096)"><use href="#c"/><text>lys</text></g>
<g id="r433" transform="translate(350.4,1096)"><use href="#c"/><text>val</text></g>
<g id="r434" transform="translate(316.6,1096)"><use href="#c"/><text>gly</text></g>
<g id="r435" transform="translate(282.8,1096)"><use href="#c"/><text>ser</text></g>
<g id="r436" transform="translate(249,1096)"><use href="#c"/><text>lys</text></g>
<g id="r437" transform="translate(215.2,1096)"><use href="#c"/><text>cys</text></g>
<g id="r438" transform="translate(181.4,1096)"><use href="#c"/><text>cys</text></g>
<g id="r439" transform="translate(147.6,1096)"><use href="#c"/><text>lys</text></g>
<g id="r440" transform="translate(113.8,1096)"><use href="#c"/><text class="n" y="-9">440</text><text y="5">his</text></g>
<g id="r441" transform="translate(80,1096)"><use href="#c"/><text>pro</text></g>
<g id="r442" transform="translate(46.2,1100)"><use href="#c"/><text>glu</text></g>
<g id="r443" transform="translate(46.2,1131)"><use href="#c"/><text>ala</text></g>
<g id="r444" transform="translate(80,1131)"><use href="#c"/><text>lys</text></g>
<g id="r445" transform="translate(113.8,1131)"><use href="#c"/><text>arg</text></g>
<g id="r446" transform="translate(147.6,1131)"><use href="#c"/><text>met</text></g>
<g id="r447" transform="translate(181.4,1131)"><use href="#c"/><text>pro</text></g>
<g id="r448" transform="translate(215.2,1131)"><use href="#c"/><text>cys</text></g>
<g id="r449" transform="translate(249,1131)"><use href="#c"/><text>ala</text></g>
<g id="r450" transform="translate(282.8,1131)"><use href="#c"/><text class="n" y="-9">450</text><text y="5">glu</text></g>
<g id="r451" transform="translate(316.6,1131)"><use href="#c"/><text>asp</text></g>
<g id="r452" class="b" transform="translate(350.4,1131)"><use href="#c"/><text>try</text></g>
<g id="r453" class="b" transform="translate(384.2,1131)"><use href="#c"/><text>leu</text></g>
<g id="r454" transform="translate(418,1131)"><use href="#c"/><text>ser</text></g>
<g id="r455" transform="translate(451.8,1131)"><use href="#c"/><text>val</text></g>
<g id="r456" transform="translate(485.6,1131)"><use href="#c"/><text>val</text></g>
<g id="r457" transform="translate(519.4,1131)"><use href="#c"/><text>leu</text></g>
<g id="r458" transform="translate(553.2,1131)"><use href="#c"/><text>asn</text></g>
<g id="r459" transform="translate(587,1131)"><use href="#c"/><text>gln</text></g>
<g id="r460" transform="translate(620.8,1131)"><use href="#c"/><text class="n" y="-9">460</text><text y="5">leu</text></g>
<g id="r461" transform="translate(654.6,1131)"><use href="#c"/><text>cys</text></g>
<g id="r462" transform="translate(688.4,1131)"><use href="#c"/><text>val</text></g>
<g id="r463" transform="translate(722.2,1131)"><use href="#c"/><text>leu</text></g>
<g id="r464" transform="translate(756,1131)"><use href="#c"/><text>his</text></g>
<g id="r465" transform="translate(789.8,1131)"><use href="#c"/><text>glu</text></g>
<g id="r466" transform="translate(823.6,1131)"><use href="#c"/><text>lys</text></g>
<g id="r467" transform="translate(857.4,1131)"><use href="#c"/><text>thr</text></g>
<g id="r468" transform="translate(891.2,1131)"><use href="#c"/><text>pro</text></g>
<g id="r469" transform="translate(907,1166)"><use href="#c"/><text>val</text></g>
<g id="r470" transform="translate(886.2,1200)"><use href="#c"/><text class="n" y="-9">470</text><text y="5">ser</text></g>
<g id="r471" transform="translate(852.4,1200)"><use href="#c"/><text>asp</text></g>
<g id="r472" transform="translate(818.6,1200)"><use href="#c"/><text>arg</text></g>
<g id="r473" transform="translate(784.8,1200)"><use href="#c"/><text>val</text></g>
<g id="r474" transform="translate(751,1200)"><use href="#c"/><text>thr</text></g>
<g id="r475" transform="translate(717.2,1200)"><use href="#c"/><text>lys</text></g>
<g id="r476" transform="translate(683.4,1200)"><use href="#c"/><text>cys</text></g>
<g id="r477" transform="translate(649.6,1200)"><use href="#c"/><text>cys</text></g>
<g id="r478" transform="translate(615.8,1200)"><use href="#c"/><text>thr</text></g>
<g id="r479" transform="translate(582,1200)"><use href="#c"/><text>glu</text></g>
<g id="r480" transform="translate(548.2,1200)"><use href="#c"/><text class="n" y="-9">480</text><text y="5">ser</text></g>
<g id="r481" transform="translate(514.4,1200)"><use href="#c"/><text>leu</text></g>
<g id="r482" transform="translate(512,1236)"><use href="#c"/><text>val</text></g>
<g id="r483" transform="translate(548.2,1241)"><use href="#c"/><text>asn</text></g>
<g id="r484" transform="translate(582,1241)"><use href="#c"/><text>arg</text></g>
<g id="r485" transform="translate(615.8,1241)"><use href="#c"/><text>arg</text></g>
<g id="r486" transform="translate(649.6,1241)"><use href="#c"/><text>pro</text></g>
<g id="r487" transform="translate(683.4,1241)"><use href="#c"/><text>cys</text></g>
<g id="r488" transform="translate(717.2,1241)"><use href="#c"/><text>phe</text></g>
<g id="r489" transform="translate(751,1241)"><use href="#c"/><text>ser</text></g>
<g id="r490" transform="translate(784.8,1241)"><use href="#c"/><text class="n" y="-9">490</text><text y="5">ala</text></g>
<g id="r491" transform="translate(818.6,1243)"><use href="#c"/><text>leu</text></g>
<g id="r492" transform="translate(809,1274)"><use href="#c"/><text>glu</text></g>
<g id="r493" transform="translate(784.8,1285)"><use href="#c"/><text>val</text></g>
<g id="r494" transform="translate(751,1285)"><use href="#c"/><text>asp</text></g>
<g id="r495" transform="translate(717.2,1285)"><use href="#c"/><text>glu</text></g>
<g id="r496" transform="translate(683.4,1285)"><use href="#c"/><text>thr</text></g>
<g id="r497" transform="translate(649.6,1285)"><use href="#c"/><text>tyr</text></g>
<g id="r498" transform="translate(615.8,1285)"><use href="#c"/><text>val</text></g>
<g id="r499" transform="translate(582,1285)"><use href="#c"/><text>pro</text></g>
<g id="r500" transform="translate(548.2,1285)"><use href="#c"/><text class="n" y="-9">500</text><text y="5">lys</text></g>
<g id="r501" transform="translate(514.4,1285)"><use href="#c"/><text>glu</text></g>
<g id="r502" transform="translate(480.6,1285)"><use href="#c"/><text>phe</text></g>
<g id="r503" transform="translate(446.8,1285)"><use href="#c"/><text>asn</text></g>
<g id="r504" transform="translate(413,1285)"><use href="#c"/><text>ala</text></g>
<g id="r505" transform="translate(379.2,1285)"><use href="#c"/><text>glu</text></g>
<g id="r506" transform="translate(345.4,1285)"><use href="#c"/><text>thr</text></g>
<g id="r507" transform="translate(311.6,1285)"><use href="#c"/><text>phe</text></g>
<g id="r508" transform="translate(277.8,1285)"><use href="#c"/><text>thr</text></g>
<g id="r509" transform="translate(244,1285)"><use href="#c"/><text>phe</text></g>
<g id="r510" transform="translate(210.2,1285)"><use href="#c"/><text class="n" y="-9">510</text><text y="5">his</text></g>
<g id="r511" transform="translate(176.4,1285)"><use href="#c"/><text>ala</text></g>
<g id="r512" transform="translate(142.6,1285)"><use href="#c"/><text>asp</text></g>
<g id="r513" transform="translate(147,1319)"><use href="#c"/><text>ile</text></g>
<g id="r514" transform="translate(181.4,1324)"><use href="#c"/><text>cys</text></g>
<g id="r515" transform="translate(215.2,1324)"><use href="#c"/><text>thr</text></g>
<g id="r516" transform="translate(249,1324)"><use href="#c"/><text>leu</text></g>
<g id="r517" transform="translate(282.8,1324)"><use href="#c"/><text>ser</text></g>
<g id="r518" transform="translate(316.6,1324)"><use href="#c"/><text>glu</text></g>
<g id="r519" transform="translate(350.4,1324)"><use href="#c"/><text>lys</text></g>
<g id="r520" transform="translate(384.2,1324)"><use href="#c"/><text class="n" y="-9">520</text><text y="5">glu</text></g>
<g id="r521" transform="translate(418,1324)"><use href="#c"/><text>arg</text></g>
<g id="r522" transform="translate(451.8,1324)"><use href="#c"/><text>gln</text></g>
<g id="r523" transform="translate(485.6,1324)"><use href="#c"/><text>ile</text></g>
<g id="r524" transform="translate(519.4,1324)"><use href="#c"/><text>lys</text></g>
<g id="r525" transform="translate(553.2,1324)"><use href="#c"/><text>lys</text></g>
<g id="r526" transform="translate(587,1324)"><use href="#c"/><text>gln</text></g>
<g id="r527" class="b" transform="translate(620.8,1324)"><use href="#c"/><text>thr</text></g>
<g id="r528" transform="translate(654.6,1324)"><use href="#c"/><text>ala</text></g>
<g id="r529" transform="translate(688.4,1324)"><use href="#c"/><text>leu</text></g>
<g id="r530" transform="translate(722.2,1324)"><use href="#c"/><text class="n" y="-9">530</text><text y="5">val</text></g>
<g id="r531" transform="translate(756,1324)"><use href="#c"/><text>glu</text></g>
<g id="r532" transform="translate(789.8,1324)"><use href="#c"/><text>leu</text></g>
<g id="r533" transform="translate(823.6,1324)"><use href="#c"/><text>val</text></g>
<g id="r534" transform="translate(857.4,1324)"><use href="#c"/><text>lys</text></g>
<g id="r535" transform="translate(891.2,1324)"><use href="#c"/><text>his</text></g>
<g id="r536" transform="translate(929,1331)"><use href="#c"/><text>lys</text></g>
<g id="r537" transform="translate(929,1367)"><use href="#c"/><text y="-4">pro</text></g>
<g id="r538" transform="translate(891.2,1371)"><use href="#c"/><text>lys</text></g>
<g id="r539" transform="translate(857.4,1371)"><use href="#c"/><text>ala</text></g>
<g id="r540" transform="translate(823.6,1371)"><use href="#c"/><text class="n" y="-9">540</text><text y="5">thr</text></g>
<g id="r541" transform="translate(789.8,1371)"><use href="#c"/><text>lys</text></g>
<g id="r542" transform="translate(756,1371)"><use href="#c"/><text>glu</text></g>
<g id="r543" transform="translate(722.2,1371)"><use href="#c"/><text>gln</text></g>
<g id="r544" transform="translate(688.4,1371)"><use href="#c"/><text>leu</text></g>
<g id="r545" transform="translate(654.6,1371)"><use href="#c"/><text>lys</text></g>
<g id="r546" transform="translate(620.8,1371)"><use href="#c"/><text>ala</text></g>
<g id="r547" transform="translate(587,1371)"><use href="#c"/><text>val</text></g>
<g id="r548" transform="translate(553.2,1371)"><use href="#c"/><text>met</text></g>
<g id="r549" transform="translate(519.4,1371)"><use href="#c"/><text>asp</text></g>
<g id="r550" transform="translate(485.6,1371)"><use href="#c"/><text class="n" y="-9">550</text><text y="5">asp</text></g>
<g id="r551" transform="translate(451.8,1371)"><use href="#c"/><text>phe</text></g>
<g id="r552" transform="translate(418,1371)"><use href="#c"/><text>ala</text></g>
<g id="r553" transform="translate(384.2,1371)"><use href="#c"/><text>ala</text></g>
<g id="r554" transform="translate(350.4,1371)"><use href="#c"/><text>phe</text></g>
<g id="r555" transform="translate(316.6,1371)"><use href="#c"/><text>val</text></g>
<g id="r556" transform="translate(282.8,1371)"><use href="#c"/><text>glu</text></g>
<g id="r557" transform="translate(249,1371)"><use href="#c"/><text>lys</text></g>
<g id="r558" transform="translate(215.2,1371)"><use href="#c"/><text>cys</text></g>
<g id="r559" transform="translate(181.4,1371)"><use href="#c"/><text>cys</text></g>
<g id="r560" transform="translate(147.6,1371)"><use href="#c"/><text class="n" y="-9">560</text><text y="5">lys</text></g>
<g id="r561" transform="translate(113.8,1371)"><use href="#c"/><text>ala</text></g>
<g id="r562" transform="translate(80,1371)"><use href="#c"/><text>asp</text></g>
<g id="r563" transform="translate(80,1404)"><use href="#c"/><text>asp</text></g>
<g id="r564" transform="translate(113.8,1410)"><use href="#c"/><text>lys</text></g>
<g id="r565" transform="translate(147.6,1410)"><use href="#c"/><text>glu</text></g>
<g id="r566" transform="translate(181.4,1410)"><use href="#c"/><text>thr</text></g>
<g id="r567" transform="translate(215.2,1410)"><use href="#c"/><text>cys</text></g>
<g id="r568" transform="translate(249,1410)"><use href="#c"/><text>phe</text></g>
<g id="r569" transform="translate(282.8,1410)"><use href="#c"/><text>ala</text></g>
<g id="r570" transform="translate(316.6,1410)"><use href="#c"/><text class="n" y="-9">570</text><text y="5">glu</text></g>
<g id="r571" class="b" transform="translate(350.4,1410)"><use href="#c"/><text>glu</text></g>
<g id="r572" class="b" transform="translate(384.2,1410)"><use href="#c"/><text>gly</text></g>
<g id="r573" transform="translate(418,1410)"><use href="#c"/><text>lys</text></g>
<g id="r574" transform="translate(451.8,1410)"><use href="#c"/><text>lys</text></g>
<g id="r575" transform="translate(485.6,1410)"><use href="#c"/><text>leu</text></g>
<g id="r576" transform="translate(519.4,1410)"><use href="#c"/><text>val</text></g>
<g id="r577" transform="translate(528,1441)"><use href="#c"/><text>ala</text></g>
<g id="r578" transform="translate(485.6,1446)"><use href="#c"/><text>ala</text></g>
<g id="r579" transform="translate(451.8,1446)"><use href="#c"/><text>ser</text></g>
<g id="r580" transform="translate(418,1446)"><use href="#c"/><text class="n" y="-9">580</text><text y="5">gln</text></g>
<g id="r581" transform="translate(384.2,1446)"><use href="#c"/><text>ala</text></g>
<g id="r582" transform="translate(350.4,1446)"><use href="#c"/><text>ala</text></g>
<g id="r583" transform="translate(316.6,1446)"><use href="#c"/><text>leu</text></g>
<g id="r584" transform="translate(282.8,1446)"><use href="#c"/><text>gly</text></g>
<g id="r585" transform="translate(249,1446)"><use href="#c"/><text class="n" y="-9">585</text><text y="5">leu</text></g>
</g>

<g id="connectors" class="cn">
<line class="ss" x1="215.2" y1="196" x2="215.2" y2="206"/>
<line class="ss" x1="652" y1="235" x2="652" y2="254"/>
<line class="ss" x1="683.4" y1="284" x2="683.4" y2="294"/>
<line class="ss" x1="181.4" y1="410" x2="181.4" y2="426"/>
<line class="ss" x1="215.2" y1="456" x2="215.2" y2="467"/>
<line class="ss" x1="181.4" y1="603" x2="181.4" y2="614"/>
<line class="ss" x1="215.2" y1="638" x2="215.2" y2="649"/>
<line class="ss" x1="618" y1="678" x2="618" y2="714"/>
<line class="ss" x1="649.6" y1="745" x2="649.6" y2="756"/>
<line class="ss" x1="181.4" y1="876" x2="181.4" y2="894"/>
<line class="ss" x1="215.2" y1="922" x2="215.2" y2="934"/>
<line class="ss" x1="181.4" y1="1072" x2="181.4" y2="1084"/>
<line class="ss" x1="215.2" y1="1108" x2="215.2" y2="1119"/>
<line class="ss" x1="652" y1="1148" x2="652" y2="1183"/>
<line class="ss" x1="686" y1="1214" x2="686" y2="1227"/>
<line class="ss" x1="181.4" y1="1338" x2="181.4" y2="1357"/>
<line class="ss" x1="215.2" y1="1385" x2="215.2" y2="1396"/>
<line class="v" x1="249" y1="57" x2="249" y2="118"/>
<line class="v" x1="654.6" y1="98.5" x2="654.6" y2="160"/>
<line x1="367.3" y1="193" x2="367.3" y2="247"/>
<line class="v" x1="620.8" y1="372" x2="620.8" y2="420"/>
<polyline points="625,376 777,376 784,365"/>
<polyline points="367.3,458 367.3,498 78,498 41,509"/>
<line class="v" x1="654.6" y1="550.5" x2="654.6" y2="616"/>
<line x1="367.3" y1="636" x2="367.3" y2="683"/>
<line class="v" x1="620.8" y1="834" x2="620.8" y2="885"/>
<polyline points="625,835 838,835 848,823"/>
<polyline points="367.3,922 367.3,982 66,982 41,995"/>
<line class="v" x1="654.6" y1="1032.5" x2="654.6" y2="1086"/>
<line x1="367.3" y1="1106" x2="367.3" y2="1153"/>
<line class="v" x1="620.8" y1="1288" x2="620.8" y2="1350"/>
<polyline points="625,1289 858,1289 871,1274"/>
<polyline points="367.3,1386 367.3,1430 248,1430 225,1440"/>
</g>

<g id="site-labels">
<text class="k" x="240" y="68">3-2</text><text class="k" x="257" y="68">1</text>
<text class="k" x="645" y="114">1·2</text><text class="k" x="662" y="114">3</text>
<text class="k" x="350.4" y="200">1·2·3</text><text class="k" x="384.2" y="200">1·2·3</text>
<text class="k" x="611" y="375">1·2</text><text class="k" x="628" y="375">3</text>
<text class="k" x="350.4" y="463">1·2·3</text><text class="k" x="384.2" y="463">1·2·3</text>
<text class="k" x="645" y="570">1·2</text><text class="k" x="662" y="570">3</text>
<text class="k" x="350.4" y="642">1·2·3</text><text class="k" x="384.2" y="642">1·2·3</text>
<text class="k" x="611" y="839">1·2</text><text class="k" x="628" y="839">3</text>
<text class="k" x="350.4" y="928">1·2·3</text><text class="k" x="384.2" y="928">1·2·3</text>
<text class="k" x="645" y="1040">1·2</text><text class="k" x="662" y="1040">3</text>
<text class="k" x="350.4" y="1112">1·2·3</text><text class="k" x="384.2" y="1112">1·2·3</text>
<text class="k" x="611" y="1302">1·2</text><text class="k" x="628" y="1302">3</text>
<text class="k" x="350.4" y="1391">1·2·3</text><text class="k" x="384.2" y="1391">1·2·3</text>
</g>

<g class="lab">
<g id="site1"><circle cx="249" cy="44" r="13"/><text x="249" y="45">1</text></g>
<g id="site2"><circle cx="654.6" cy="86" r="12.5"/><text x="654.6" y="87">2</text></g>
<g id="site3"><circle cx="367.3" cy="259" r="12"/><text x="367.3" y="260">3</text></g>
<g id="site4"><circle cx="793" cy="357" r="12"/><text x="793" y="358">4</text></g>
<g id="site5"><circle cx="31" cy="516" r="12"/><text x="31" y="517">5</text></g>
<g id="site6"><circle cx="654.6" cy="538" r="12.5"/><text x="654.6" y="539">6</text></g>
<g id="site7"><circle cx="367.3" cy="695" r="12"/><text x="367.3" y="696">7</text></g>
<g id="site8"><circle cx="858" cy="817" r="12"/><text x="858" y="818">8</text></g>
<g id="site9"><circle cx="30" cy="1000" r="12"/><text x="30" y="1001">9</text></g>
<g id="site10"><circle cx="654.6" cy="1020" r="12.5"/><text x="654.6" y="1021">10</text></g>
<g id="site11"><circle cx="367.3" cy="1165" r="12"/><text x="367.3" y="1166">11</text></g>
<g id="site12"><circle cx="880" cy="1266" r="12"/><text x="880" y="1267">12</text></g>
<g id="site13"><circle cx="214" cy="1444" r="12"/><text x="214" y="1445">13</text></g>
</g>
</svg>
